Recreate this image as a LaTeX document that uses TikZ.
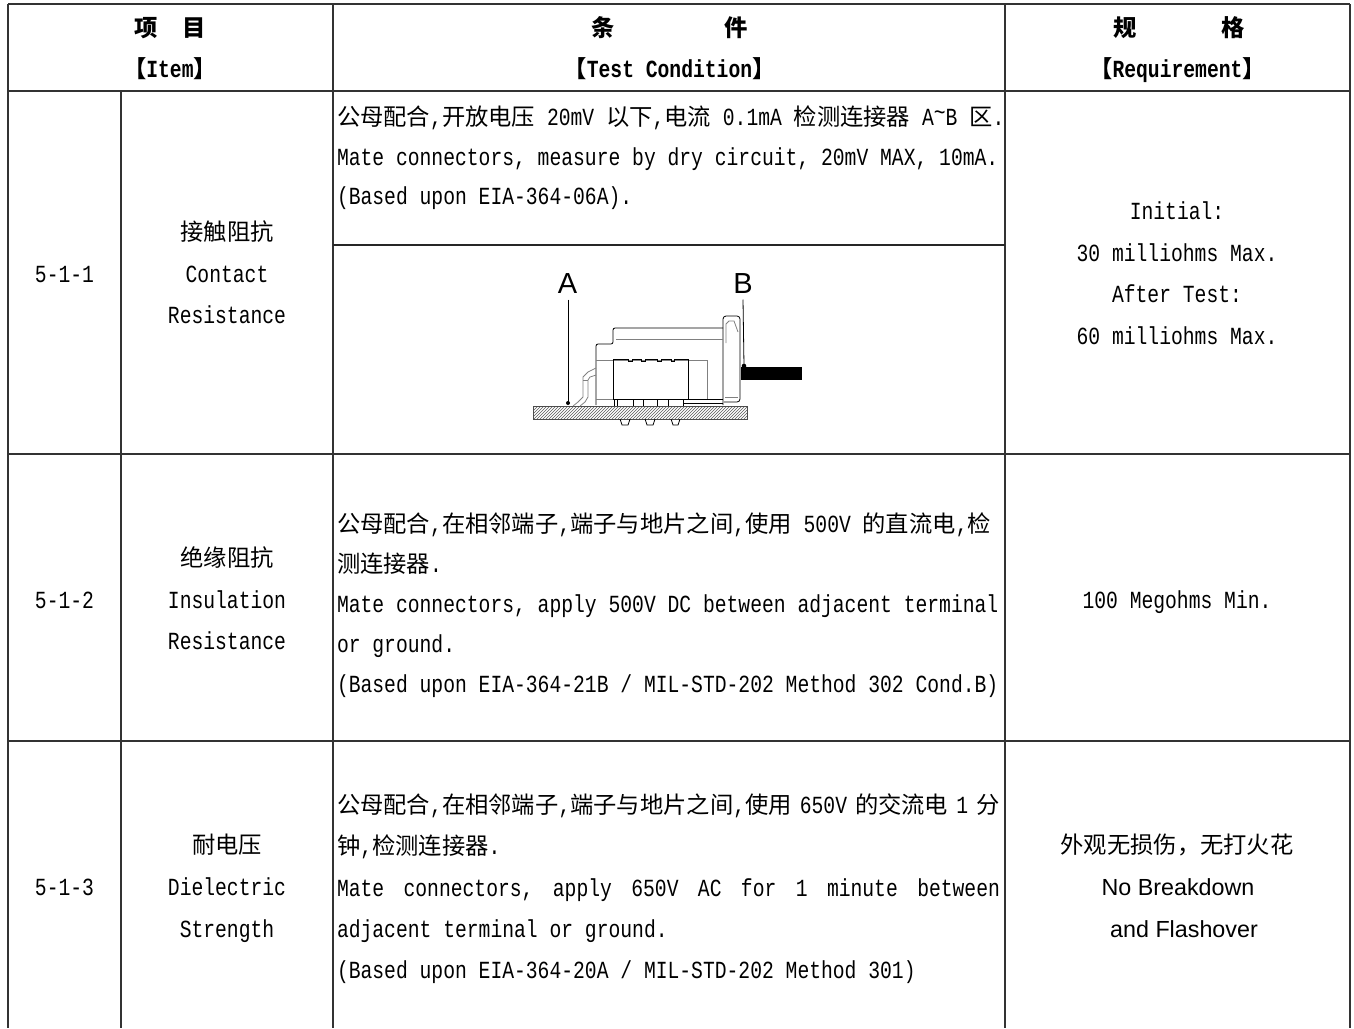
\documentclass[tikz,border=0pt]{standalone}
\usepackage{fontspec}
\setmainfont[FakeStretch=0.80]{Liberation Mono}
\newfontfamily\cjk{Noto Sans CJK SC}
\newfontfamily\arialf{Liberation Sans}
\usetikzlibrary{patterns}
\newcommand\zh[1]{{\cjk\fontsize{23.3}{28}\selectfont #1}}
\tikzset{
  every node/.style={inner sep=0pt, outer sep=0pt, font=\fontsize{24.6}{28}\selectfont},
  L/.style={anchor=base west},
  C/.style={anchor=base},
  hdr/.style={anchor=base, font=\fontsize{24.6}{28}\selectfont\bfseries},
  grid/.style={line width=1.8pt, draw=black!80},
  lbl/.style={anchor=base, font=\arialf\fontsize{29}{30}\selectfont},
  part/.style={line width=0.8pt, draw=black},
  partg/.style={line width=0.8pt, draw=black!50},
}
\begin{document}
\begin{tikzpicture}[x=1pt, y=-1pt]
\useasboundingbox (0,0) rectangle (1354,1028);
% ---------------- grid ----------------
\draw[grid] (8,4) -- (1350,4);
\draw[grid] (8,4) -- (8,1028);
\draw[grid] (1350,4) -- (1350,1028);
\draw[grid] (333,4) -- (333,1028);
\draw[grid] (1005,4) -- (1005,1028);
\draw[grid] (121,91) -- (121,1028);
\draw[grid] (8,91) -- (1350,91);
\draw[grid] (8,454) -- (1350,454);
\draw[grid] (8,741) -- (1350,741);
\draw[line width=1.3pt, draw=black!85] (333,245) -- (1005,245);
% ---------------- header ----------------
\node[hdr] (h1a) at (170,36) {\zh{项\hspace{25pt}目}};
\node[hdr] (h1b) at (170,77) {\zh{【}Item\zh{】}};
\node[hdr] (h2a) at (669.5,36) {\zh{条\hspace{110pt}件}};
\node[hdr] (h2b) at (669.5,77) {\zh{【}Test Condition\zh{】}};
\node[hdr] (h3a) at (1179,36) {\zh{规\hspace{85pt}格}};
\node[hdr] (h3b) at (1177.5,77) {\zh{【}Requirement\zh{】}};
% ---------------- 5-1-1 ----------------
\node[C] (n1) at (64.5,282) {5-1-1};
\node[C] (i1a) at (227,240) {\zh{接触阻抗}};
\node[C] (i1b) at (227,282) {Contact};
\node[C] (i1c) at (227,323) {Resistance};
\node[L] (c1a) at (337,125) {\zh{公母配合},\zh{开放电压} 20mV \zh{以下},\zh{电流} 0.1mA \zh{检测连接器} A\raisebox{5pt}{\char"7E}B \zh{区}.};
\node[L] (c1b) at (337,165) {Mate connectors, measure by dry circuit, 20mV MAX, 10mA.};
\node[L] (c1c) at (337,204) {(Based upon EIA-364-06A).};
\node[C] (r1a) at (1177,219) {Initial:};
\node[C] (r1b) at (1177,261) {30 milliohms Max.};
\node[C] (r1c) at (1177,302) {After Test:};
\node[C] (r1d) at (1177,344) {60 milliohms Max.};
% connector drawing
\draw[line width=0.8pt, draw=black!70, pattern=north east lines, pattern color=black!65] (533,406) rectangle (747,419);
\draw[part, rounded corners=2pt] (596,405) -- (596,344) -- (613,344) -- (613,328) -- (723,328);
\draw[part, rounded corners=3pt] (723,405) -- (723,316) -- (740,316) -- (740,402) -- (724,402);
\draw[partg] (726,343) -- (726,324) -- (729,321) -- (734,321) -- (738,332);
\draw[partg] (725,397) -- (738,397);
\draw[partg] (616,339) -- (723,339);
\draw[partg] (596,360) -- (707,360) -- (707,399);
\draw[part] (613,399) -- (613,359) -- (628,359) -- (628,361) -- (632,361) -- (632,359)
  -- (641,359) -- (641,361) -- (645,361) -- (645,359) -- (657,359) -- (657,361) -- (661,361)
  -- (661,359) -- (671,359) -- (671,361) -- (674,361) -- (674,359) -- (688,359) -- (688,399);
\draw[partg] (596,399) -- (723,399);
\draw[part] (613,399) -- (723,399);
\foreach \px in {614,617,633,643,657,668,683} { \draw[part] (\px,399) -- (\px,406); }
\draw[part] (683,403) -- (723,403);
\draw[part] (620,419) -- (622,425) -- (628,425) -- (630,419);
\draw[part] (645,419) -- (647,425) -- (653,425) -- (655,419);
\draw[part] (671,419) -- (673,425) -- (678,425) -- (680,419);
\draw[partg] (596,368) -- (588,372) -- (583,377) -- (583,397) -- (578,402) -- (573,406);
\draw[partg] (596,375) -- (590,377) -- (588,380) -- (588,397) -- (585,402) -- (580,406);
\draw[partg] (583,380) -- (588,380);
\node[lbl] (A) at (567.5,293.5) {A};
\node[lbl] (B) at (743,293.5) {B};
\coordinate (Ap) at (568,403);
\coordinate (Bp) at (744,366);
\draw[line width=0.8pt] (A.south) ++(0.5,6) -- (Ap);
\draw[line width=0.8pt] (B.south) ++(0,6) -- (Bp);
\fill (Ap) circle (2);
\fill (Bp) circle (2.3);
\fill (741,367) rectangle (802,380);
% ---------------- 5-1-2 ----------------
\node[C] (n2) at (64.5,608) {5-1-2};
\node[C] (i2a) at (227,566) {\zh{绝缘阻抗}};
\node[C] (i2b) at (227,608) {Insulation};
\node[C] (i2c) at (227,649) {Resistance};
\node[L] (c2a) at (337,532) {\zh{公母配合},\zh{在相邻端子},\zh{端子与地片之间},\zh{使用} 500V \zh{的直流电},\zh{检}};
\node[L] (c2b) at (337,572) {\zh{测连接器}.};
\node[L] (c2c) at (337,612) {Mate connectors, apply 500V DC between adjacent terminal};
\node[L] (c2d) at (337,652) {or ground.};
\node[L] (c2e) at (337,692) {(Based upon EIA-364-21B / MIL-STD-202 Method 302 Cond.B)};
\node[C] (r2) at (1177,608) {100 Megohms Min.};
% ---------------- 5-1-3 ----------------
\node[C] (n3) at (64.5,895) {5-1-3};
\node[C] (i3a) at (227,853) {\zh{耐电压}};
\node[C] (i3b) at (227,895) {Dielectric};
\node[C] (i3c) at (227,937) {Strength};
\node[L] (c3a) at (337,813) {\zh{公母配合},\zh{在相邻端子},\zh{端子与地片之间},\zh{使用}\hspace{8pt}650V\hspace{8pt}\zh{的交流电}\hspace{8pt}1\hspace{8pt}\zh{分}};
\node[L] (c3b) at (337,854) {\zh{钟},\zh{检测连接器}.};
\node[L] (c3c) at (337,896) {\makebox[663pt][l]{Mate\hfill connectors,\hfill apply\hfill 650V\hfill AC\hfill for\hfill 1\hfill minute\hfill between}};
\node[L] (c3d) at (337,937) {adjacent terminal or ground.};
\node[L] (c3e) at (337,978) {(Based upon EIA-364-20A / MIL-STD-202 Method 301)};
\node[C] (r3a) at (1177,853) {\zh{外观无损伤，无打火花}};
\node[C, font=\arialf\fontsize{23.3}{28}\selectfont] (r3b) at (1178,895) {No Breakdown};
\node[C, font=\arialf\fontsize{23.3}{28}\selectfont] (r3c) at (1184,937) {and Flashover};
\end{tikzpicture}
\end{document}
